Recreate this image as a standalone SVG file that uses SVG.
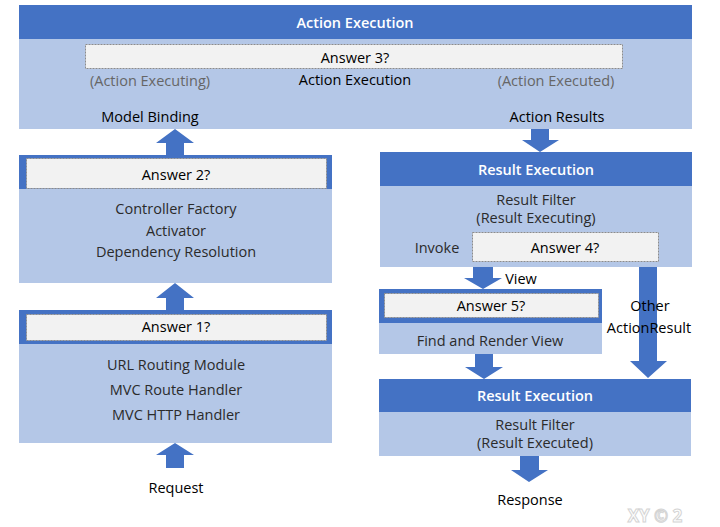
<svg xmlns="http://www.w3.org/2000/svg" width="720" height="527" viewBox="0 0 720 527">
<style>
text{font-family:"Open Sans","Noto Sans","DejaVu Sans",sans-serif;font-size:14.5px;text-anchor:middle;dominant-baseline:central;fill:#2b2b2b}
.hd{fill:#4472C4}
.bd{fill:#B4C7E7}
.ans{fill:#F2F2F2;stroke:#8C8C8C;stroke-width:1;stroke-dasharray:2 1}
.w{fill:#fff;font-weight:600}
.g{fill:#666}
.b{fill:#000;font-weight:500}
.arr{fill:#4472C4}
.wm{fill:#fff;stroke:#d4d4d4;stroke-width:1;font-weight:700;font-size:17px}
</style>
<rect width="720" height="527" fill="#fff"/>
<g id="action-execution">
<rect class="bd" x="19" y="5" width="673" height="124"/>
<rect class="hd" x="19" y="5" width="673" height="34"/>
<text class="w" x="355" y="22">Action Execution</text>
<rect class="ans" x="85.5" y="44.5" width="537" height="24"/>
<text class="b" x="355" y="57">Answer 3?</text>
<text class="g" x="150" y="80">(Action Executing)</text>
<text class="b" x="355" y="79">Action Execution</text>
<text class="g" x="556" y="80">(Action Executed)</text>
<text class="b" x="150" y="116">Model Binding</text>
<text class="b" x="557" y="116">Action Results</text>
</g>
<g id="controller">
<rect class="bd" x="19" y="155" width="313" height="128"/>
<rect class="hd" x="19" y="155" width="313" height="34"/>
<rect class="ans" x="26.5" y="158.5" width="300" height="30"/>
<text class="b" x="176" y="174">Answer 2?</text>
<text x="176" y="208">Controller Factory</text>
<text x="176" y="230">Activator</text>
<text x="176" y="251">Dependency Resolution</text>
</g>
<g id="routing">
<rect class="bd" x="19" y="310" width="313" height="133"/>
<rect class="hd" x="19" y="310" width="313" height="34"/>
<rect class="ans" x="26.5" y="314.5" width="300" height="26"/>
<text class="b" x="176" y="326">Answer 1?</text>
<text x="176" y="364">URL Routing Module</text>
<text x="176" y="389">MVC Route Handler</text>
<text x="176" y="414">MVC HTTP Handler</text>
</g>
<g id="result-execution-1">
<rect class="bd" x="380" y="152" width="312" height="115"/>
<rect class="hd" x="380" y="152" width="312" height="34"/>
<text class="w" x="536" y="169">Result Execution</text>
<text x="536" y="199">Result Filter</text>
<text x="536" y="217">(Result Executing)</text>
<text x="437" y="247">Invoke</text>
<rect class="ans" x="472.5" y="232.5" width="186" height="29"/>
<text class="b" x="565" y="247">Answer 4?</text>
</g>
<g id="render-view">
<rect class="bd" x="379" y="289" width="223" height="65"/>
<rect class="hd" x="379" y="289" width="223" height="34"/>
<rect class="ans" x="384.5" y="293.5" width="214" height="24"/>
<text class="b" x="491" y="305">Answer 5?</text>
<text x="490" y="340">Find and Render View</text>
</g>
<g id="result-execution-2">
<rect class="bd" x="379" y="379" width="312" height="77"/>
<rect class="hd" x="379" y="379" width="312" height="33"/>
<text class="w" x="535" y="395">Result Execution</text>
<text x="535" y="424">Result Filter</text>
<text x="535" y="442">(Result Executed)</text>
</g>
<g id="connectors">
<polygon class="arr" points="531,129 549,129 549,140 559,140 540,152 522,140 531,140"/>
<polygon class="arr" points="166,155 184,155 184,143 194,143 175,129 156,143 166,143"/>
<polygon class="arr" points="166,310 184,310 184,298 194,298 175,283 156,298 166,298"/>
<polygon class="arr" points="166,468 184,468 184,455 194,455 175,443 156,455 166,455"/>
<polygon class="arr" points="473,267 493,267 493,278 502,278 483,289 464,278 473,278"/>
<polygon class="arr" points="639,267 657,267 657,361 667,361 648,378 630,361 639,361"/>
<polygon class="arr" points="475,354 493,354 493,367 503,367 484,379 465,367 475,367"/>
<polygon class="arr" points="520,456 539,456 539,470 548,470 529,482 511,470 520,470"/>
<text class="b" x="521" y="278">View</text>
<text class="b" x="650" y="305">Other</text>
<text class="b" x="649" y="327">ActionResult</text>
<text class="b" x="176" y="487">Request</text>
<text class="b" x="530" y="499">Response</text>
</g>
<text class="wm" x="655" y="515">XY © 2</text>
</svg>
